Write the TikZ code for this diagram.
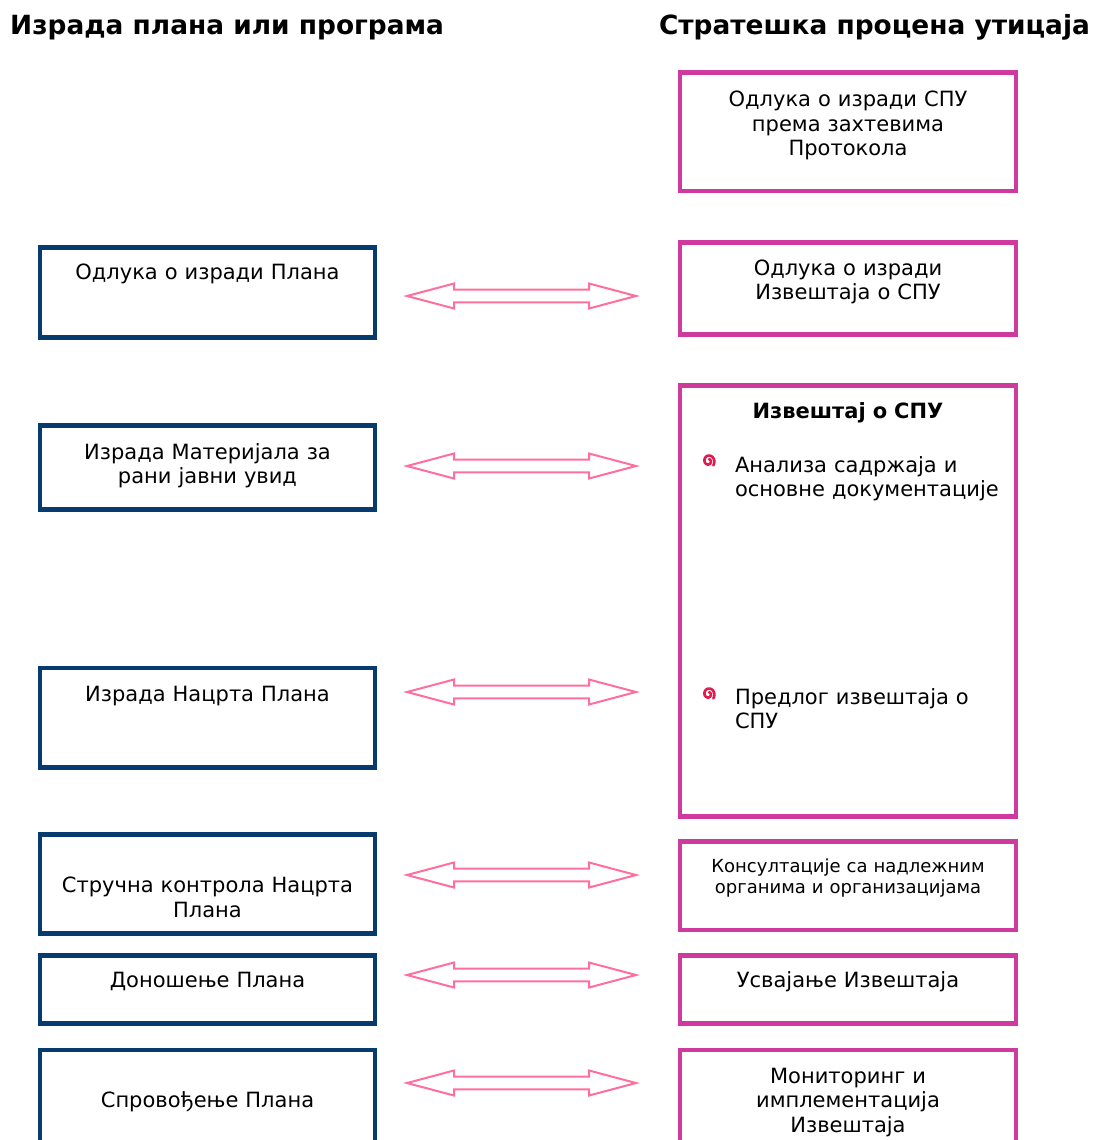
\documentclass[tikz,border=0pt]{standalone}
\usepackage{fontspec}
\setmainfont{DejaVu Sans}
\usetikzlibrary{calc}
\definecolor{navy}{HTML}{073A6E}
\definecolor{spupink}{HTML}{CF3A9E}
\definecolor{arrowpink}{HTML}{FF6F9C}
\definecolor{bulletred}{HTML}{E21A4E}

\begin{document}
\begin{tikzpicture}[x=1pt, y=-1pt,
  box/.style={draw, line width=4.5pt, fill=white, anchor=north, align=center,
              text width=325pt, inner xsep=5pt, inner ysep=0pt,
              font=\fontsize{21}{24.5}\selectfont},
  plan/.style={box, draw=navy},
  spu/.style={box, draw=spupink, text width=326pt},
  title/.style={font=\fontsize{26.4}{30}\selectfont\bfseries, inner sep=0pt},
  dblarr/.style={draw=arrowpink, line width=2pt, line join=miter,
    to path={-- ($(\tikztostart)+(47,-12.5)$) -- ($(\tikztostart)+(47,-6.3)$)
             -- ($(\tikztotarget)+(-47,-6.3)$) -- ($(\tikztotarget)+(-47,-12.5)$)
             -- (\tikztotarget)
             -- ($(\tikztotarget)+(-47,12.5)$) -- ($(\tikztotarget)+(-47,6.3)$)
             -- ($(\tikztostart)+(47,6.3)$) -- ($(\tikztostart)+(47,12.5)$) -- cycle}},
  spiral/.pic={\draw[bulletred, line width=2.6pt, line cap=round]
    plot[domain=0:470, samples=60, variable=\t]
    ({(1.6+4.6*\t/470)*cos(\t-430)}, {1.1*(1.6+4.6*\t/470)*sin(\t-430)});},
]
\useasboundingbox (0,0) rectangle (1095,1140);
% column titles
\node[title, anchor=base west] (plantitle) at (10,35) {Израда плана или програма};
\node[title, anchor=base east] (sputitle) at (1090,35) {Стратешка процена утицаја};
% plan column (left)
\node[plan, text height=32.7pt, text depth=57.3pt] (odl) at (207.5,245) {Одлука о изради Плана};
\node[plan, text height=34.2pt, text depth=49.8pt] (mat) at (207.5,423) {Израда Материјала за\\рани јавни увид};
\node[plan, text height=33.3pt, text depth=66.2pt] (nac) at (207.5,665.5) {Израда Нацрта Плана};
\node[plan, text height=58.7pt, text depth=40.3pt] (kon) at (207.5,832) {Стручна контрола Нацрта\\Плана};
\node[plan, text height=32pt, text depth=36pt] (don) at (207.5,953) {Доношење Плана};
\node[plan, text height=58.2pt, text depth=61.8pt] (spr) at (207.5,1047.5) {Спровођење Плана};
% SPU column (right)
\node[spu, text height=34.7pt, text depth=83.8pt] (odlspu) at (848,70) {Одлука о изради СПУ\\према захтевима\\Протокола};
\node[spu, text height=33pt, text depth=59pt] (odlizv) at (848,240) {Одлука о изради\\Извештаја о СПУ};
\node[spu, align=left, text height=33.2pt, text depth=397.8pt] (izv) at (848,383) {%
  \makebox[\linewidth]{\bfseries Извештај о СПУ}\\[29.5pt]
  \hspace*{50pt}Анализа садржаја и\\
  \hspace*{50pt}основне документације\\[183pt]
  \hspace*{50pt}Предлог извештаја о\\
  \hspace*{50pt}СПУ};
\node[spu, font=\fontsize{18}{21}\selectfont, text height=31.2pt, text depth=57.3pt] (kons) at (848,839) {Консултације са надлежним\\органима и организацијама};
\node[spu, text height=32pt, text depth=36pt] (usv) at (848,953) {Усвајање Извештаја};
\node[spu, text height=33.7pt, text depth=86.3pt] (mon) at (848,1047.5) {Мониторинг и\\имплементација\\Извештаја};
% bullets
\pic at (708.5,461) {spiral};
\pic at (708.5,694) {spiral};
% double arrows
\coordinate (odlw) at (407,296);  \coordinate (odle) at (636,296);
\coordinate (matw) at (407,466);  \coordinate (mate) at (636,466);
\coordinate (nacw) at (407,692);  \coordinate (nace) at (636,692);
\coordinate (konw) at (407,875);  \coordinate (kone) at (636,875);
\coordinate (donw) at (407,975);  \coordinate (done) at (636,975);
\coordinate (sprw) at (407,1083); \coordinate (spre) at (636,1083);
\draw[dblarr] (odlw) to (odle);
\draw[dblarr] (matw) to (mate);
\draw[dblarr] (nacw) to (nace);
\draw[dblarr] (konw) to (kone);
\draw[dblarr] (donw) to (done);
\draw[dblarr] (sprw) to (spre);
\end{tikzpicture}
\end{document}
